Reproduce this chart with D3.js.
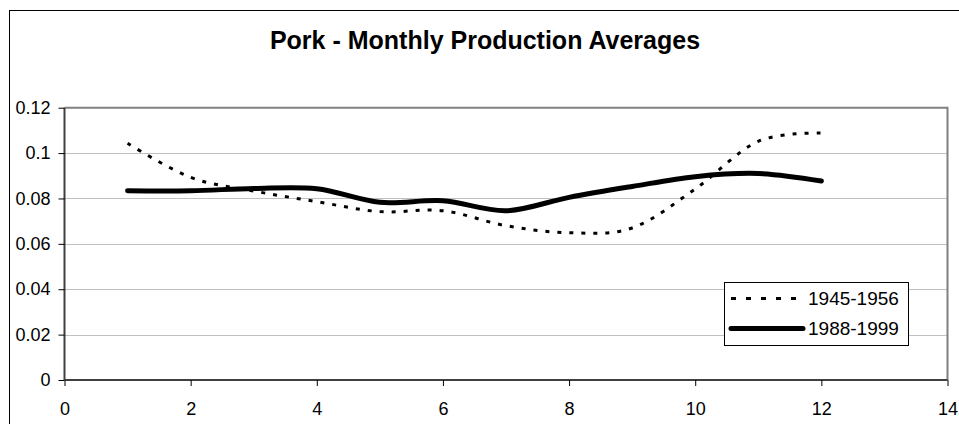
<!DOCTYPE html>
<html>
<head>
<meta charset="utf-8">
<script src="https://cdn.jsdelivr.net/npm/d3@7"></script>
<style>
  html, body { margin: 0; padding: 0; background: #fff; }
  svg { display: block; }
  text { font-family: "Liberation Sans", Arial, sans-serif; fill: #000; }
</style>
</head>
<body>
<svg id="chart" width="959" height="424"></svg>
<script>
const title = "Pork - Monthly Production Averages";
const months = [1, 2, 3, 4, 5, 6, 7, 8, 9, 10, 11, 12];
const series1Name = "1945-1956";
const series1 = [0.1043, 0.0893, 0.0833, 0.0786, 0.0742, 0.0746, 0.0680, 0.0649, 0.0670, 0.0842, 0.1052, 0.1088];
const series2Name = "1988-1999";
const series2 = [0.0834, 0.0834, 0.0844, 0.0843, 0.0783, 0.0790, 0.0746, 0.0805, 0.0853, 0.0896, 0.0910, 0.0877];
const xTicks = [0, 2, 4, 6, 8, 10, 12, 14];
const yTicks = [0, 0.02, 0.04, 0.06, 0.08, 0.1, 0.12];

const svg = d3.select("#chart");

// outer chart frame
svg.append("rect").attr("x", 9.5).attr("y", 10.5).attr("width", 960).attr("height", 430)
  .attr("fill", "#fff").attr("stroke", "#000").attr("stroke-width", 1);

const plot = { left: 64.5, right: 947.5, top: 107.7, bottom: 380 };
const x = d3.scaleLinear().domain([0, 14]).range([plot.left, plot.right]);
const y = d3.scaleLinear().domain([0, 0.12]).range([plot.bottom, plot.top]);

// title
svg.append("text").attr("x", 485).attr("y", 49).attr("text-anchor", "middle")
  .style("font-size", "25px").style("font-weight", "bold").text(title);

// gridlines
svg.append("g").selectAll("line").data(yTicks.filter(d => d > 0 && d < 0.12)).join("line")
  .attr("x1", plot.left).attr("x2", plot.right)
  .attr("y1", d => Math.round(y(d)) + 0.5).attr("y2", d => Math.round(y(d)) + 0.5)
  .attr("stroke", "#808080").attr("stroke-width", 1).attr("stroke-dasharray", "1,1");

// plot border (top & right gray)
svg.append("path")
  .attr("d", `M${plot.left},${y(0.12)}H${plot.right}V${plot.bottom}`)
  .attr("fill", "none").attr("stroke", "#808080").attr("stroke-width", 2);

// axes
const yAxis = d3.axisLeft(y).tickValues(yTicks).tickSize(6).tickPadding(8)
  .tickFormat(d => String(+d.toFixed(2)));
const xAxis = d3.axisBottom(x).tickValues(xTicks).tickSize(6).tickPadding(16)
  .tickFormat(d3.format("d"));

const gy = svg.append("g").attr("transform", `translate(${plot.left},0)`).call(yAxis);
const gx = svg.append("g").attr("transform", `translate(0,${plot.bottom})`).call(xAxis);
[gx, gy].forEach(g => {
  g.select(".domain").attr("stroke", "#404040").attr("stroke-width", 2);
  g.selectAll(".tick line").attr("stroke", "#000").attr("stroke-width", 1);
  g.selectAll(".tick text").style("font-size", "18px").style("font-family", "Liberation Sans, Arial, sans-serif").attr("fill", "#000");
});
gy.select(".domain").attr("d", `M-0,${plot.top}V${plot.bottom}`);
gx.select(".domain").attr("d", `M${plot.left},0H${plot.right}`);

// lines
const curve = d3.curveCardinal.tension(0);
const lineGen = d3.line().x((d, i) => x(months[i])).y(d => y(d)).curve(curve);
svg.append("path").datum(series1).attr("d", lineGen)
  .attr("fill", "none").attr("stroke", "#000").attr("stroke-width", 3)
  .attr("stroke-dasharray", "4,8");
svg.append("path").datum(series2).attr("d", lineGen)
  .attr("fill", "none").attr("stroke", "#000").attr("stroke-width", 5)
  .attr("stroke-linecap", "round");

// legend
const lg = svg.append("g");
lg.append("rect").attr("x", 724.5).attr("y", 282.5).attr("width", 184).attr("height", 63)
  .attr("fill", "#fff").attr("stroke", "#000").attr("stroke-width", 1);
const legendItems = [
  { name: series1Name, width: 3, dash: "5,10", y: 298.5 },
  { name: series2Name, width: 5, dash: null, y: 328.5 }
];
legendItems.forEach(it => {
  const l = lg.append("line").attr("x1", 731).attr("x2", 803).attr("y1", it.y).attr("y2", it.y)
    .attr("stroke", "#000").attr("stroke-width", it.width);
  if (it.dash) l.attr("stroke-dasharray", it.dash);
  else l.attr("stroke-linecap", "round");
  lg.append("text").attr("x", 808).attr("y", it.y).attr("dy", "0.35em")
    .style("font-size", "19px").text(it.name);
});
</script>
</body>
</html>
